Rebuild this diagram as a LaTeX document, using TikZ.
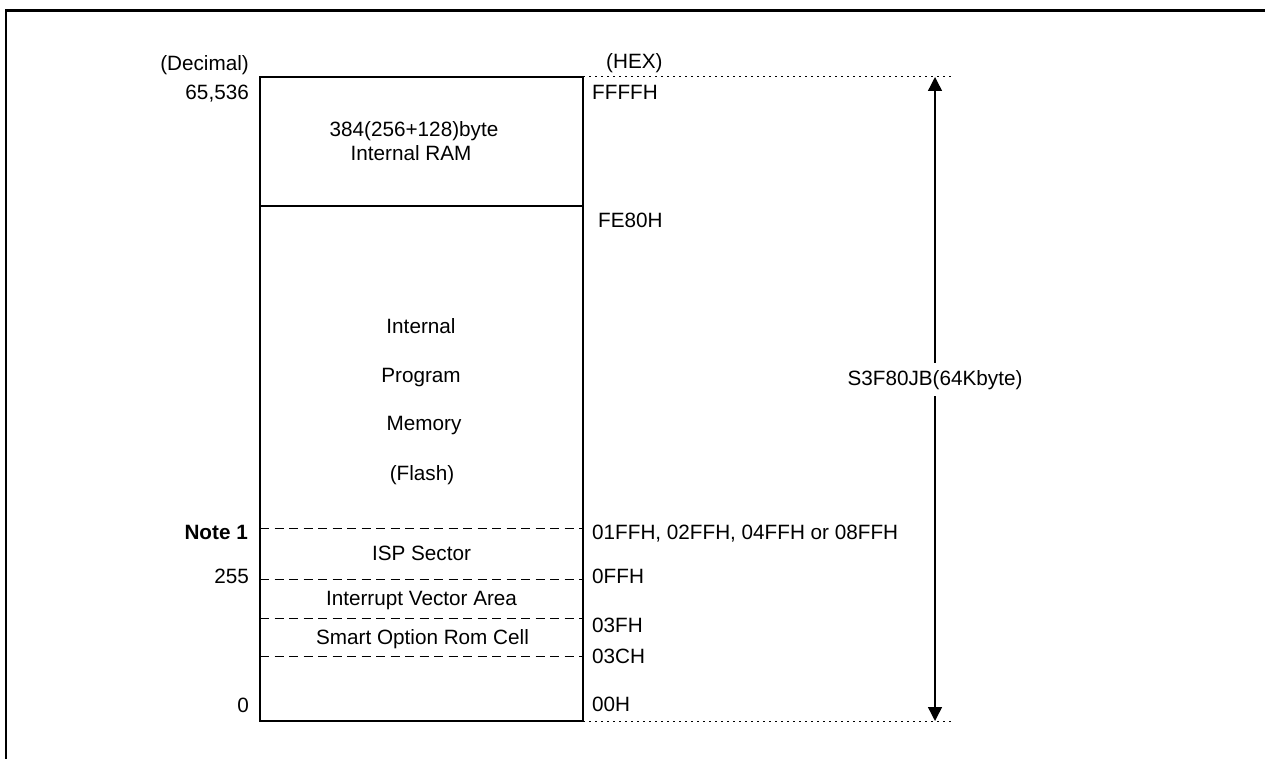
\documentclass[tikz,border=0pt]{standalone}
\usepackage{fontspec}
\setmainfont{Liberation Sans}
\usetikzlibrary{arrows.meta}
\begin{document}
\begin{tikzpicture}[x=1pt,y=-1pt,
  lbl/.style={font=\fontsize{20.7}{24}\selectfont, inner sep=0pt},
  leftlbl/.style={lbl, anchor=base east},
  rightlbl/.style={lbl, anchor=base west},
  midlbl/.style={lbl, anchor=base},
  memline/.style={line width=1.4pt},
  sepline/.style={line width=1pt, dash pattern=on 9pt off 5.5pt},
  dotline/.style={line width=1pt, dash pattern=on 1.5pt off 4.5pt},
  dimarrow/.style={line width=1.4pt, -{Triangle[length=14pt,width=14pt]}}]
\useasboundingbox (0,0) rectangle (1265,759);
% outer frame
\coordinate (fbl) at (6,759);
\coordinate (ftl) at (6,10.5);
\coordinate (ftr) at (1265,10.5);
\draw[line width=2.5pt] (fbl) -- (ftl) -- (ftr);
% memory box
\coordinate (tl) at (260,77);
\coordinate (tr) at (583,77);
\coordinate (bl) at (260,721);
\coordinate (br) at (583,721);
\draw[memline] (tl) rectangle (br);
\coordinate (ramL) at (260,206);
\coordinate (ramR) at (583,206);
\draw[memline] (ramL) -- (ramR);
% dashed separators
\foreach \yy/\nm in {528/a,579/b,618/c,656/d}{
  \coordinate (sL\nm) at (260,\yy);
  \coordinate (sR\nm) at (583,\yy);
  \draw[sepline] (sL\nm) -- (sR\nm);
}
% dotted extension lines
\coordinate (dtE) at (955,77);
\coordinate (dbE) at (955,721);
\draw[dotline] (tr) -- (dtE);
\draw[dotline] (br) -- (dbE);
% size arrow
\node[midlbl, fill=white, inner ysep=7pt, inner xsep=2pt] (size) at (935,385) {S3F80JB(64Kbyte)};
\coordinate (atop) at (935,77);
\coordinate (abot) at (935,721);
\draw[dimarrow] (size.north) -- (atop);
\draw[dimarrow] (size.south) -- (abot);
% left labels
\node[leftlbl] (dec) at (249,71) {(Decimal)};
\node[leftlbl] (d65) at (249,100) {65,536};
\node[leftlbl] (note) at (248,539) {\bfseries Note 1};
\node[leftlbl] (d255) at (249,583) {255};
\node[leftlbl] (d0) at (249,712) {0};
% right labels
\node[rightlbl] (hex) at (606,69) {(HEX)};
\node[rightlbl] (hFFFF) at (592,100) {FFFFH};
\node[rightlbl] (hFE80) at (598,228) {FE80H};
\node[rightlbl] (h01FF) at (592,539) {01FFH, 02FFH, 04FFH or 08FFH};
\node[rightlbl] (h0FF) at (592,583) {0FFH};
\node[rightlbl] (h03F) at (592,632) {03FH};
\node[rightlbl] (h03C) at (592,663) {03CH};
\node[rightlbl] (h00) at (592,711) {00H};
% region labels
\node[midlbl] (ram1) at (414,137) {384(256+128)byte};
\node[midlbl] (ram2) at (411,161) {Internal RAM};
\node[midlbl] (f1) at (421,333) {Internal};
\node[midlbl] (f2) at (421,382) {Program};
\node[midlbl] (f3) at (424,430) {Memory};
\node[midlbl] (f4) at (422,480) {(Flash)};
\node[midlbl] (isp) at (421.5,560) {ISP Sector};
\node[midlbl] (iva) at (421.5,605) {Interrupt Vector Area};
\node[midlbl] (sor) at (422.5,644) {Smart Option Rom Cell};
\end{tikzpicture}
\end{document}
